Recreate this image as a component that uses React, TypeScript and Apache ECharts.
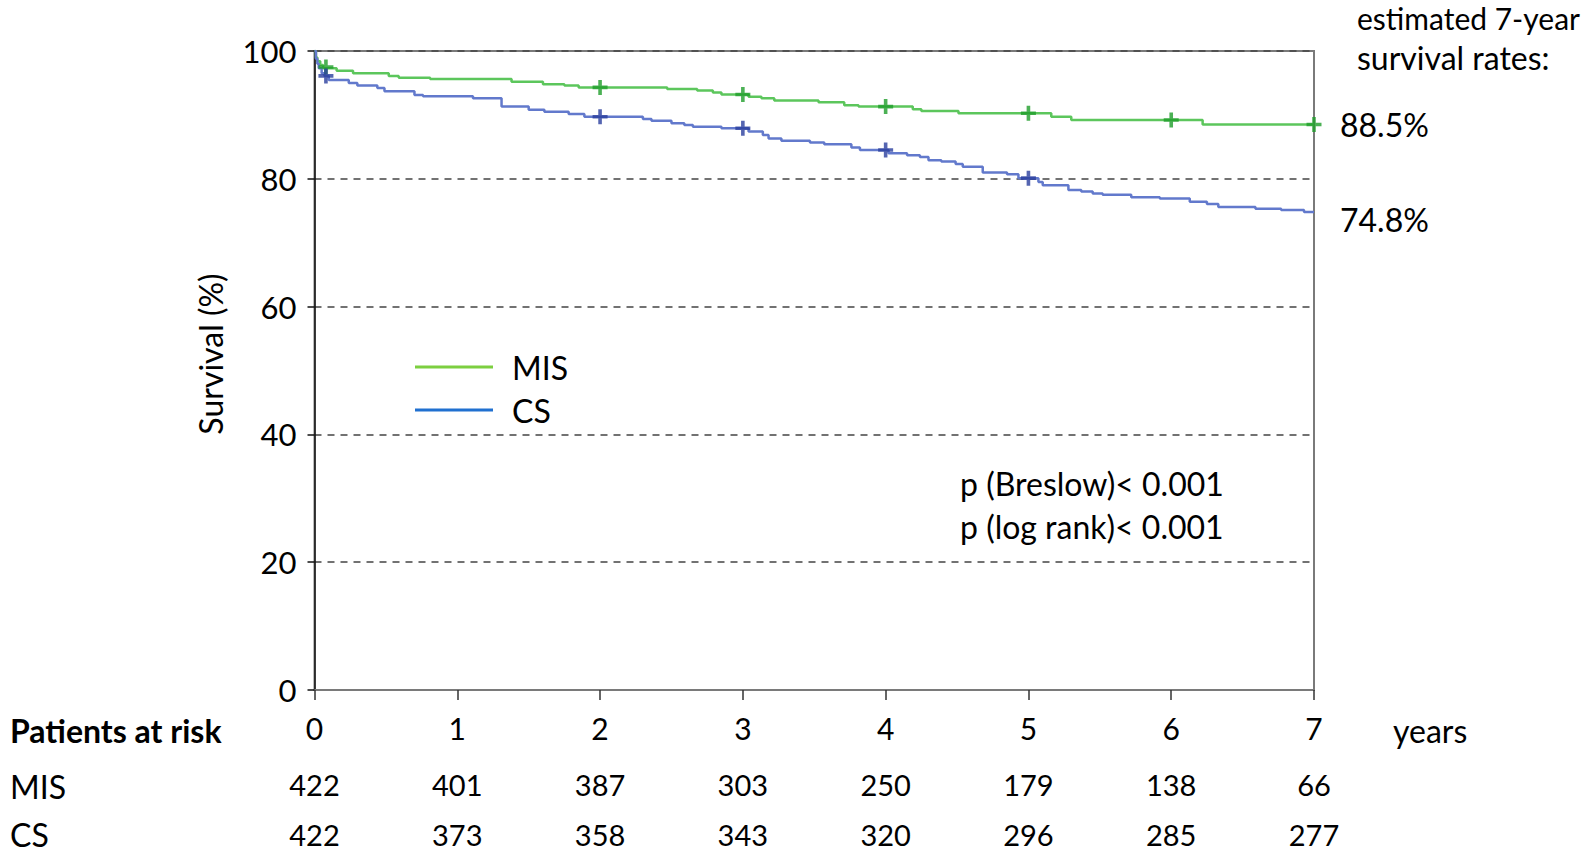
import React, { useEffect, useRef } from "react";
import * as echarts from "echarts";

const years = [0, 1, 2, 3, 4, 5, 6, 7];
const misAtRisk = [422, 401, 387, 303, 250, 179, 138, 66];
const csAtRisk = [422, 373, 358, 343, 320, 296, 285, 277];

const misTimes = [0, 0.01, 0.02, 0.04, 0.06, 0.155, 0.27, 0.52, 0.59, 0.81, 1.38, 1.6, 1.75, 1.85, 2.47, 2.68, 2.79, 2.85, 3.04, 3.13, 3.22, 3.53, 3.71, 3.81, 4.19, 4.25, 4.51, 5.16, 5.3, 6.22, 7];
const misSurv = [100, 99.0, 98.4, 97.8, 97.3, 96.9, 96.5, 96.1, 95.8, 95.6, 95.2, 94.8, 94.6, 94.3, 94.05, 93.8, 93.5, 93.2, 92.85, 92.6, 92.25, 91.97, 91.5, 91.3, 90.9, 90.6, 90.25, 89.7, 89.2, 88.5, 88.5];

const csTimes = [0, 0.01, 0.02, 0.03, 0.05, 0.07, 0.1, 0.24, 0.3, 0.44, 0.49, 0.7, 0.76, 1.11, 1.31, 1.5, 1.61, 1.78, 1.89, 2.3, 2.36, 2.5, 2.59, 2.65, 2.85, 3.04, 3.14, 3.18, 3.27, 3.47, 3.57, 3.76, 3.82, 4.02, 4.15, 4.24, 4.3, 4.39, 4.49, 4.54, 4.68, 4.85, 4.93, 5.07, 5.1, 5.28, 5.37, 5.45, 5.52, 5.72, 5.92, 6.13, 6.25, 6.33, 6.59, 6.77, 6.93, 7];
const csSurv = [100, 98.8, 98.0, 97.3, 96.5, 96.1, 95.46, 95.0, 94.6, 94.2, 93.7, 93.1, 92.9, 92.6, 91.3, 90.8, 90.5, 90.14, 89.7, 89.36, 89.1, 88.7, 88.4, 88.15, 87.9, 87.4, 86.85, 86.3, 85.96, 85.7, 85.4, 84.9, 84.5, 84.0, 83.7, 83.4, 82.9, 82.7, 82.3, 81.9, 81.0, 80.7, 80.1, 79.5, 79.0, 78.25, 78.0, 77.7, 77.5, 77.1, 76.9, 76.4, 76.05, 75.6, 75.3, 75.1, 74.8, 74.8];

const misCensorTimes = [0.08, 2, 3, 4, 5, 6, 7];
const misCensorSurv = [97.5, 94.3, 93.2, 91.3, 90.25, 89.2, 88.5];
const csCensorTimes = [0.08, 2, 3, 4, 5];
const csCensorSurv = [96.1, 89.7, 87.9, 84.5, 80.1];

const estimated7y = [88.5, 74.8];

const FONT = "Lato";
const TXT = 32;
const plusPath = "path://M3.8,0h2.4v3.8h3.8v2.4h-3.8v3.8h-2.4v-3.8h-3.8v-2.4h3.8z";

function zip(a: number[], b: number[]) {
  return a.map((v, i) => [v, b[i]]);
}

function txt(text: string, x: number, y: number, extra: any = {}) {
  return {
    type: "text",
    x,
    y,
    rotation: extra.rotation || 0,
    style: {
      text,
      fontSize: extra.fontSize || TXT,
      fontFamily: FONT,
      fontWeight: extra.fontWeight || "normal",
      fill: "#000",
      textAlign: extra.align || "left",
      textVerticalAlign: "middle",
      align: extra.align || "left",
      verticalAlign: "middle",
    },
  };
}

export default function App() {
  const ref = useRef<HTMLDivElement>(null);
  useEffect(() => {
    if (!ref.current) return;
    const chart = echarts.init(ref.current, null, { renderer: "svg" });
    const axisCommon = {
      type: "value",
      min: 0,
      max: 7,
      interval: 1,
      gridIndex: 0,
    };
    chart.setOption({
      animation: false,
      backgroundColor: "#fff",
      grid: {
        left: 314.5,
        right: 280,
        top: 51,
        bottom: 162,
        show: true,
        borderColor: "#7a7a7a",
        borderWidth: 2,
      },
      xAxis: [
        {
          ...axisCommon,
          position: "bottom",
          axisLine: { show: true, lineStyle: { color: "#7a7a7a", width: 2 } },
          axisTick: { show: true, length: 10, lineStyle: { color: "#333", width: 1.5 } },
          axisLabel: {
            show: true,
            margin: 23,
            fontSize: 30,
            fontFamily: FONT,
            color: "#000",
            formatter: (v: number) => String(years[v]),
          },
          splitLine: { show: false },
        },
        {
          ...axisCommon,
          position: "bottom",
          offset: 56,
          axisLine: { show: false },
          axisTick: { show: false },
          splitLine: { show: false },
          axisLabel: {
            margin: 24,
            fontSize: 29,
            fontFamily: FONT,
            color: "#000",
            formatter: (v: number) => String(misAtRisk[v]),
          },
        },
        {
          ...axisCommon,
          position: "bottom",
          offset: 106,
          axisLine: { show: false },
          axisTick: { show: false },
          splitLine: { show: false },
          axisLabel: {
            margin: 24,
            fontSize: 29,
            fontFamily: FONT,
            color: "#000",
            formatter: (v: number) => String(csAtRisk[v]),
          },
        },
      ],
      yAxis: {
        type: "value",
        min: 0,
        max: 100,
        interval: 20,
        axisLine: { show: true, lineStyle: { color: "#111", width: 1.5 } },
        axisTick: { show: true, length: 7, lineStyle: { color: "#111", width: 1.5 } },
        axisLabel: { margin: 18, fontSize: 31, fontFamily: FONT, color: "#000" },
        splitLine: {
          show: true,
          lineStyle: { color: "#444", width: 1.5, type: [7, 6] },
        },
      },
      legend: {
        orient: "vertical",
        left: 410,
        top: 346,
        itemWidth: 78,
        itemHeight: 3,
        itemGap: 11,
        icon: "rect",
        textStyle: { fontSize: TXT, fontFamily: FONT, color: "#000", padding: [0, 0, 0, 14] },
        data: [
          { name: "MIS", itemStyle: { color: "#7ccf40" } },
          { name: "CS", itemStyle: { color: "#2070d0" } },
        ],
      },
      graphic: [
        txt("Patients at risk", 10, 730, { fontWeight: "bold" }),
        txt("MIS", 10, 786),
        txt("CS", 10, 834),
        txt("years", 1393, 730),
        txt("estimated 7-year", 1357, 18, { fontSize: 30 }),
        txt("survival rates:", 1357, 57),
        txt("p (Breslow)< 0.001", 960, 483),
        txt("p (log rank)< 0.001", 960, 526),
        txt("Survival (%)", 210, 354, { rotation: Math.PI / 2, align: "center" }),
      ],
      series: [
        {
          name: "MIS",
          type: "line",
          step: "end",
          symbol: "none",
          xAxisIndex: 0,
          data: zip(misTimes, misSurv),
          lineStyle: { color: "#5cc65c", width: 2.5 },
          itemStyle: { color: "#5cc65c" },
          endLabel: {
            show: true,
            distance: 26,
            fontSize: TXT,
            fontFamily: FONT,
            color: "#000",
            formatter: () => estimated7y[0].toFixed(1) + "%",
          },
          z: 3,
        },
        {
          name: "CS",
          type: "line",
          step: "end",
          symbol: "none",
          xAxisIndex: 0,
          data: zip(csTimes, csSurv),
          lineStyle: { color: "#6279cc", width: 2.5 },
          itemStyle: { color: "#6279cc" },
          endLabel: {
            show: true,
            distance: 26,
            offset: [0, 7],
            fontSize: TXT,
            fontFamily: FONT,
            color: "#000",
            formatter: () => estimated7y[1].toFixed(1) + "%",
          },
          z: 3,
        },
        {
          name: "MIS censored",
          type: "scatter",
          xAxisIndex: 0,
          symbol: plusPath,
          symbolSize: 15,
          itemStyle: { color: "#1f9e2a" },
          data: zip(misCensorTimes, misCensorSurv),
          z: 4,
        },
        {
          name: "CS censored",
          type: "scatter",
          xAxisIndex: 0,
          symbol: plusPath,
          symbolSize: 15,
          itemStyle: { color: "#2b3f9e" },
          data: zip(csCensorTimes, csCensorSurv),
          z: 4,
        },
      ],
    });
    return () => chart.dispose();
  }, []);
  return (
    <div
      ref={ref}
      style={{ position: "fixed", left: 0, top: 0, width: 1594, height: 852, background: "#fff" }}
    />
  );
}
